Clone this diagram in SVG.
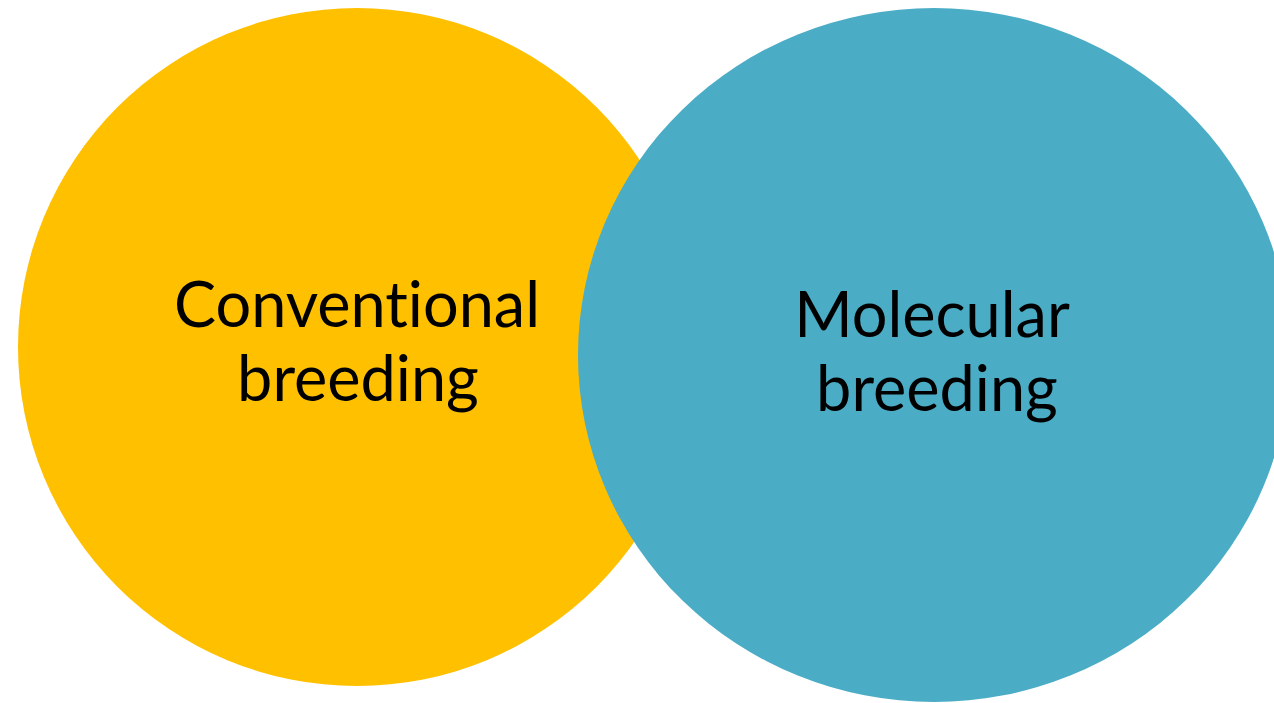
<svg xmlns="http://www.w3.org/2000/svg" width="1274" height="703" viewBox="0 0 1274 703">
<style>
.lbl{font-family:Lato,"Open Sans","Liberation Sans",sans-serif;font-size:63px;fill:#000;text-anchor:middle;font-variant-ligatures:none;font-feature-settings:"liga" 0}
</style>
<rect width="1274" height="703" fill="#fff"/>
<g id="conventional">
<circle cx="357" cy="347" r="339" fill="#FFC000"/>
<text class="lbl" x="357" y="327">Conventional</text>
<text class="lbl" x="358" y="401">breeding</text>
</g>
<g id="molecular">
<ellipse cx="934" cy="355" rx="356" ry="347" fill="#4BACC6"/>
<text class="lbl" x="932" y="337">Molecular</text>
<text class="lbl" x="937" y="411">breeding</text>
</g>
<g id="connectors"></g>
</svg>
